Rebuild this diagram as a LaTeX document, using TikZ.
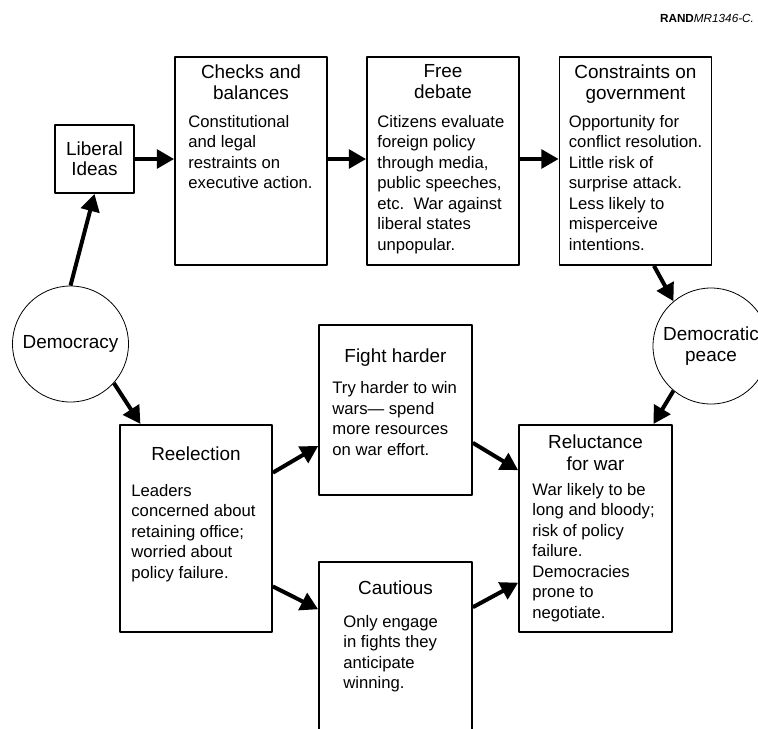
\documentclass[tikz,border=0pt]{standalone}
\usepackage{fontspec}
\setmainfont{Liberation Sans}
\usetikzlibrary{arrows.meta}
\begin{document}
\begin{tikzpicture}[x=0.75pt, y=-0.75pt, line join=round, >={Triangle[length=13pt,width=14pt]}]
		\tikzset{
		box/.style={draw, line width=1.3pt, minimum width=114pt, minimum height=155.5pt, inner sep=0pt},
		ring/.style={draw, circle, line width=0.6pt, minimum size=87pt, inner sep=0pt, font=\fontsize{14.2}{15.8}\selectfont, align=center},
		head/.style={anchor=north, inner sep=0pt, align=center, font=\fontsize{14.2}{15.8}\selectfont},
		txt/.style={anchor=north west, inner sep=0pt, align=left, font=\fontsize{12.5}{15.4}\selectfont},
		link/.style={->, line width=3pt}
		}
		\clip (0,0) rectangle (758,729);
		\node[font=\fontsize{8.8}{10}\selectfont] (tag) at (707,18) {\textbf{RAND}\textit{MR1346-C.}};
		% top row
		\node[box, minimum width=59.25pt, minimum height=51pt, align=center, font=\fontsize{14.2}{15}\selectfont] (lib) at (94.5,159) {Liberal\\Ideas};
		\node[box, minimum height=156pt] (checks) at (251,161) {};
		\node[box, minimum height=156pt] (free) at (443,161) {};
		\node[box, minimum height=156pt] (cons) at (635.5,161) {};
		\node[head] at ([yshift=-6pt]checks.north) {Checks and\\balances};
		\node[txt] at ([xshift=10.5pt,yshift=-44pt]checks.north west) {Constitutional\\and legal\\restraints on\\executive action.};
		\node[head] at ([yshift=-6pt]free.north) {Free\\debate};
		\node[txt] at ([xshift=8.25pt,yshift=-44pt]free.north west) {Citizens evaluate\\foreign policy\\through media,\\public speeches,\\etc.\ \ War against\\liberal states\\unpopular.};
		\node[head] at ([yshift=-6pt]cons.north) {Constraints on\\government};
		\node[txt] at ([xshift=7.5pt,yshift=-44pt]cons.north west) {Opportunity for\\conflict resolution.\\Little risk of\\surprise attack.\\Less likely to\\misperceive\\intentions.};
		% circles
		\node[ring] (dem) at (70.5,344) {Democracy};
		\node[ring] (peace) at (711,346) {Democratic\\peace};
		% bottom part
		\node[box] (reel) at (196,528.5) {};
		\node[box, minimum width=114.75pt, minimum height=127.5pt] (fight) at (395.5,410) {};
		\node[box, minimum width=114.75pt] (rel) at (595.5,528.5) {};
		\node[box, minimum width=114.75pt] (caut) at (395.5,665.5) {};
		\node[head] at ([yshift=-17.25pt]reel.north) {Reelection};
		\node[txt] at ([xshift=9pt,yshift=-45pt]reel.north west) {Leaders\\concerned about\\retaining office;\\worried about\\policy failure.};
		\node[head] at ([yshift=-18pt]fight.north) {Fight harder};
		\node[txt] at ([xshift=10.5pt,yshift=-42.75pt]fight.north west) {Try harder to win\\wars--- spend\\more resources\\on war effort.};
		\node[head] at ([yshift=-8.25pt]rel.north) {Reluctance\\for war};
		\node[txt] at ([xshift=10.5pt,yshift=-44.25pt]rel.north west) {War likely to be\\long and bloody;\\risk of policy\\failure.\\Democracies\\prone to\\negotiate.};
		\node[head] at ([yshift=-15pt]caut.north) {Cautious};
		\node[txt] at ([xshift=18.75pt,yshift=-40.5pt]caut.north west) {Only engage\\in fights they\\anticipate\\winning.};
		% arrows
		\draw[link] (lib.east) -- (lib.east -| checks.west);
		\draw[link] (checks.east |- lib) -- (free.west |- lib);
		\draw[link] (free.east |- lib) -- (cons.west |- lib);
		\draw[link] (dem.north) -- (lib.south);
		\draw[link] (cons.-80) -- (peace.130);
		\draw[link] (peace.-130) -- (rel.61);
		\draw[link] (dem.-42) -- (reel.118);
		\draw[link] (reel.36) -- (fight.205);
		\draw[link] (fight.-23) -- (rel.143);
		\draw[link] (reel.-37) -- (caut.144);
		\draw[link] (caut.37) -- (rel.215);
	\end{tikzpicture}
\end{document}
